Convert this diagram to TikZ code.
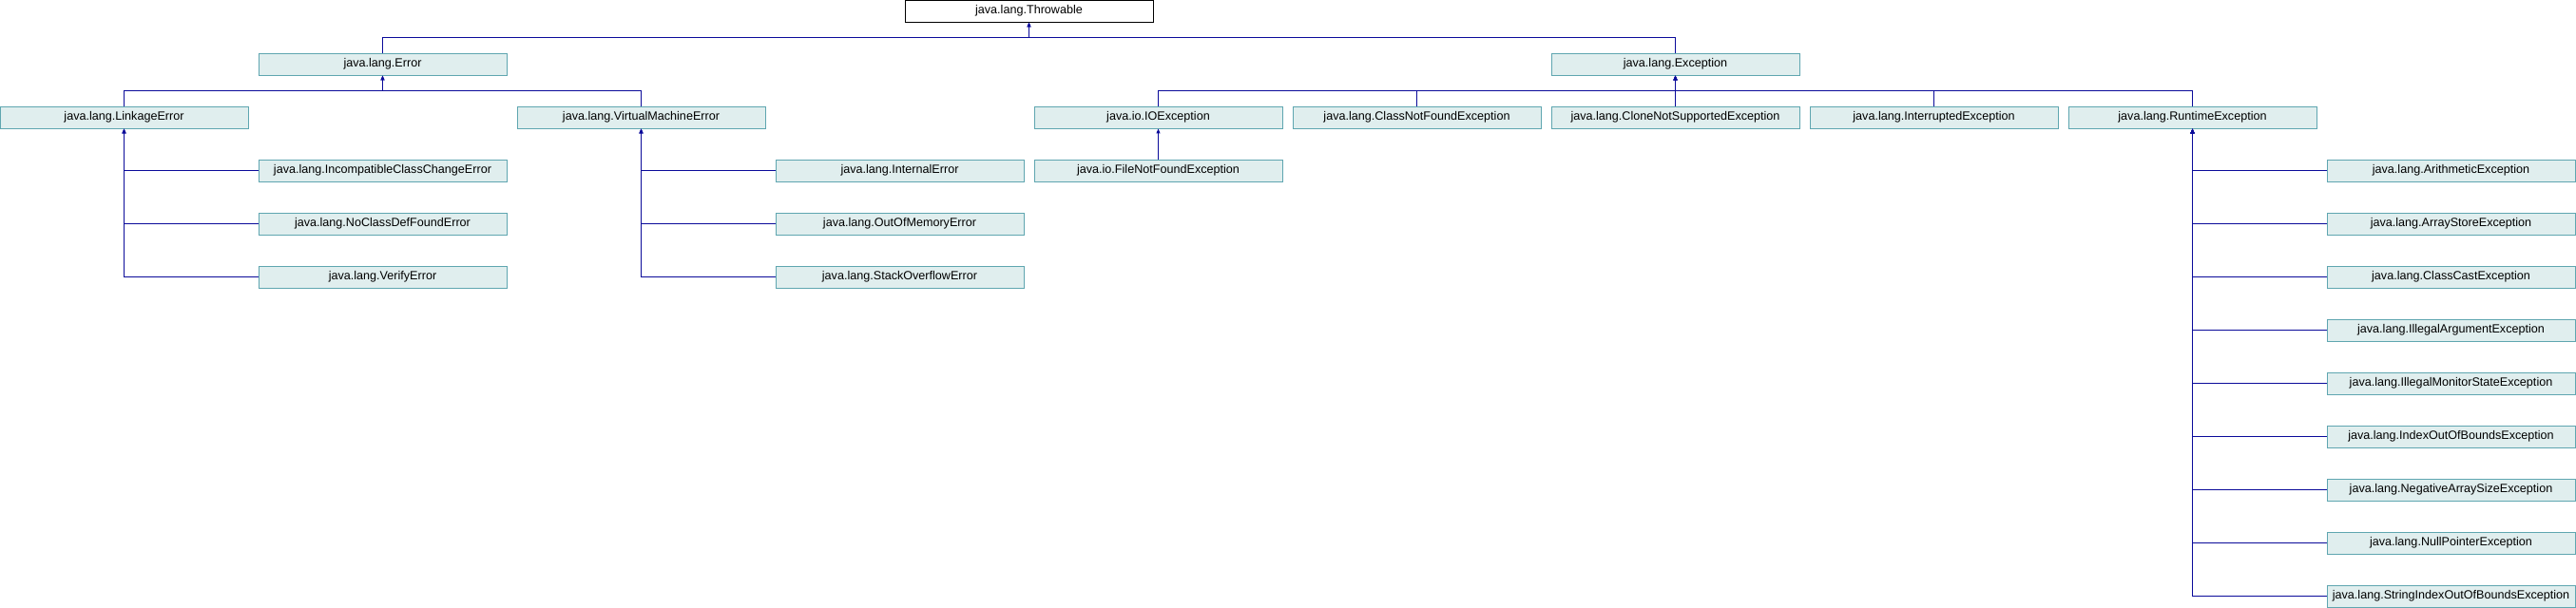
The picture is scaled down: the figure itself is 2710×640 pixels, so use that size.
\documentclass[tikz,border=0pt]{standalone}
\usepackage{fontspec}
\setmainfont{Liberation Sans}
\usetikzlibrary{arrows.meta}

\definecolor{boxfill}{HTML}{E0EEEE}
\definecolor{boxline}{HTML}{5FA6B0}
\definecolor{edgeblue}{HTML}{0B0B9A}

\tikzset{
  cls/.style={rectangle, draw=boxline, fill=boxfill, line width=0.9pt,
    minimum width=261pt, minimum height=23pt, inner sep=0pt,
    font=\fontsize{12.6}{14}\selectfont},
  rootcls/.style={cls, draw=black, fill=white},
  inh/.style={draw=edgeblue, line width=1pt, -{Triangle[length=5pt,width=4pt]}},
  more/.style={append after command={
    \pgfextra{\fill[boxline] (\tikzlastnode.south east) -- ++(-5pt,0) -- ++(5pt,5pt) -- cycle;}}}
}

\begin{document}
\begin{tikzpicture}[x=1pt, y=1pt]
      \useasboundingbox (0,0) rectangle (2710,-640);

      % Nodes
      \node[rootcls] at (1082.5, -11.5) (throw) {java.lang.Throwable};

      \node[cls] at (402.5, -67.5) (error) {java.lang.Error};
      \node[cls] at (1762.5, -67.5) (exc) {java.lang.Exception};

      \node[cls] at (130.5, -123.5) (link) {java.lang.LinkageError};
      \node[cls] at (674.5, -123.5) (vme) {java.lang.VirtualMachineError};
      \node[cls] at (1218.5, -123.5) (ioe) {java.io.IOException};
      \node[cls] at (1490.5, -123.5) (cnfe) {java.lang.ClassNotFoundException};
      \node[cls] at (1762.5, -123.5) (cnse) {java.lang.CloneNotSupportedException};
      \node[cls] at (2034.5, -123.5) (inte) {java.lang.InterruptedException};
      \node[cls] at (2306.5, -123.5) (rte) {java.lang.RuntimeException};

      \node[cls, more] at (402.5, -179.5) (icce) {java.lang.IncompatibleClassChangeError};
      \node[cls] at (402.5, -235.5) (ncdfe) {java.lang.NoClassDefFoundError};
      \node[cls] at (402.5, -291.5) (verr) {java.lang.VerifyError};

      \node[cls] at (946.5, -179.5) (ierr) {java.lang.InternalError};
      \node[cls] at (946.5, -235.5) (oome) {java.lang.OutOfMemoryError};
      \node[cls] at (946.5, -291.5) (soe) {java.lang.StackOverflowError};

      \node[cls] at (1218.5, -179.5) (fnfe) {java.io.FileNotFoundException};

      \node[cls] at (2578.5, -179.5) (arith) {java.lang.ArithmeticException};
      \node[cls] at (2578.5, -235.5) (ase) {java.lang.ArrayStoreException};
      \node[cls] at (2578.5, -291.5) (cce) {java.lang.ClassCastException};
      \node[cls, more] at (2578.5, -347.5) (iae) {java.lang.IllegalArgumentException};
      \node[cls] at (2578.5, -403.5) (imse) {java.lang.IllegalMonitorStateException};
      \node[cls, more] at (2578.5, -459.5) (ioobe) {java.lang.IndexOutOfBoundsException};
      \node[cls] at (2578.5, -515.5) (nase) {java.lang.NegativeArraySizeException};
      \node[cls] at (2578.5, -571.5) (npe) {java.lang.NullPointerException};
      \node[cls] at (2578.5, -627.5) (sioobe) {java.lang.StringIndexOutOfBoundsException};

      % Edges
      \draw[inh] (error.north) -- ++(0,16.5) -| (throw.south);
      \draw[inh] (exc.north) -- ++(0,16.5) -| (throw.south);

      \draw[inh] (link.north) -- ++(0,16) -| (error.south);
      \draw[inh] (vme.north) -- ++(0,16) -| (error.south);

      \draw[inh] (ioe.north) -- ++(0,16) -| (exc.south);
      \draw[inh] (cnfe.north) -- ++(0,16) -| (exc.south);
      \draw[inh] (cnse.north) -- (exc.south);
      \draw[inh] (inte.north) -- ++(0,16) -| (exc.south);
      \draw[inh] (rte.north) -- ++(0,16) -| (exc.south);

      \draw[inh] (icce.west) -| (link.south);
      \draw[inh] (ncdfe.west) -| (link.south);
      \draw[inh] (verr.west) -| (link.south);

      \draw[inh] (ierr.west) -| (vme.south);
      \draw[inh] (oome.west) -| (vme.south);
      \draw[inh] (soe.west) -| (vme.south);

      \draw[inh] (fnfe.north) -- (ioe.south);

      \draw[inh] (arith.west) -| (rte.south);
      \draw[inh] (ase.west) -| (rte.south);
      \draw[inh] (cce.west) -| (rte.south);
      \draw[inh] (iae.west) -| (rte.south);
      \draw[inh] (imse.west) -| (rte.south);
      \draw[inh] (ioobe.west) -| (rte.south);
      \draw[inh] (nase.west) -| (rte.south);
      \draw[inh] (npe.west) -| (rte.south);
      \draw[inh] (sioobe.west) -| (rte.south);
    \end{tikzpicture}
\end{document}
